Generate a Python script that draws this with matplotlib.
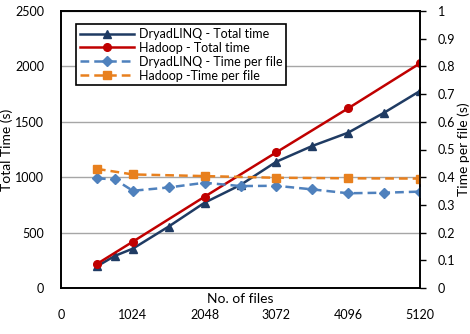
import matplotlib.pyplot as plt

plt.rcParams["font.family"] = ["Lato", "DejaVu Sans"]

# ----------------------------
# Data
# ----------------------------
dryad_files = [512, 768, 1024, 1536, 2048, 2560, 3072, 3584, 4096, 4608, 5120]
dryad_total = [195, 290, 355, 555, 770, 930, 1140, 1282, 1402, 1582, 1778]
dryad_per_file = [0.396, 0.392, 0.351, 0.363, 0.380, 0.368, 0.369, 0.356, 0.342, 0.344, 0.348]

hadoop_files = [512, 1024, 2048, 3072, 4096, 5120]
hadoop_total = [217, 418, 824, 1225, 1622, 2028]
hadoop_per_file = [0.430, 0.410, 0.404, 0.398, 0.396, 0.395]

x_ticks = [0, 1024, 2048, 3072, 4096, 5120]

fig = plt.figure(figsize=(4.7, 3.34), dpi=100)
ax = fig.add_axes([61 / 470, 1 - 288 / 334, 359 / 470, 277 / 334])
ax2 = ax.twinx()

ax.plot(dryad_files, dryad_total, color="#1F3B63", lw=1.8, marker="^", ms=5.5,
        label="DryadLINQ - Total time")
ax.plot(hadoop_files, hadoop_total, color="#C00000", lw=1.8, marker="o", ms=5.5,
        label="Hadoop - Total time")
ax2.plot(dryad_files, dryad_per_file, color="#4F81BD", lw=1.8, ls=(0, (3.5, 2)),
         marker="D", ms=5, label="DryadLINQ - Time per file")
ax2.plot(hadoop_files, hadoop_per_file, color="#E8801E", lw=1.8, ls=(0, (3.5, 2)),
         marker="s", ms=5.5, label="Hadoop -Time per file")

ax.set_xlim(0, 5120)
ax.set_ylim(0, 2500)
ax2.set_ylim(0, 1)
ax.set_xticks(x_ticks)
ax.set_yticks(range(0, 2501, 500))
ax2.set_yticks([i / 10 for i in range(11)])
ax2.set_yticklabels(["0"] + [f"{i / 10:g}" for i in range(1, 11)])

ax.grid(axis="y", color="#A6A6A6", lw=1)
ax.set_axisbelow(True)

for a in (ax, ax2):
    for s in a.spines.values():
        s.set_linewidth(1.2)
        s.set_color("black")

ax.tick_params(axis="x", length=0, pad=15, labelsize=9)
ax.tick_params(axis="y", length=0, pad=12, labelsize=9)
ax2.tick_params(axis="y", length=4, width=1, direction="out", pad=9, labelsize=9)

ax.set_xlabel("No. of files", fontsize=10)
ax.xaxis.set_label_coords(0.5, -0.018)
ax.set_ylabel("Total Time (s)", fontsize=10, labelpad=2)
ax2.set_ylabel("Time per file (s)", fontsize=10, labelpad=1)

h1, l1 = ax.get_legend_handles_labels()
h2, l2 = ax2.get_legend_handles_labels()
leg = ax2.legend(h1 + h2, l1 + l2, loc="upper left", bbox_to_anchor=(0.025, 0.975),
                 fontsize=9, handlelength=4.3, fancybox=False, framealpha=1,
                 edgecolor="black", borderpad=0.3, labelspacing=0.15, handletextpad=0.4)
leg.get_frame().set_linewidth(1.2)

plt.savefig("out.png", dpi=100)
plt.close()
